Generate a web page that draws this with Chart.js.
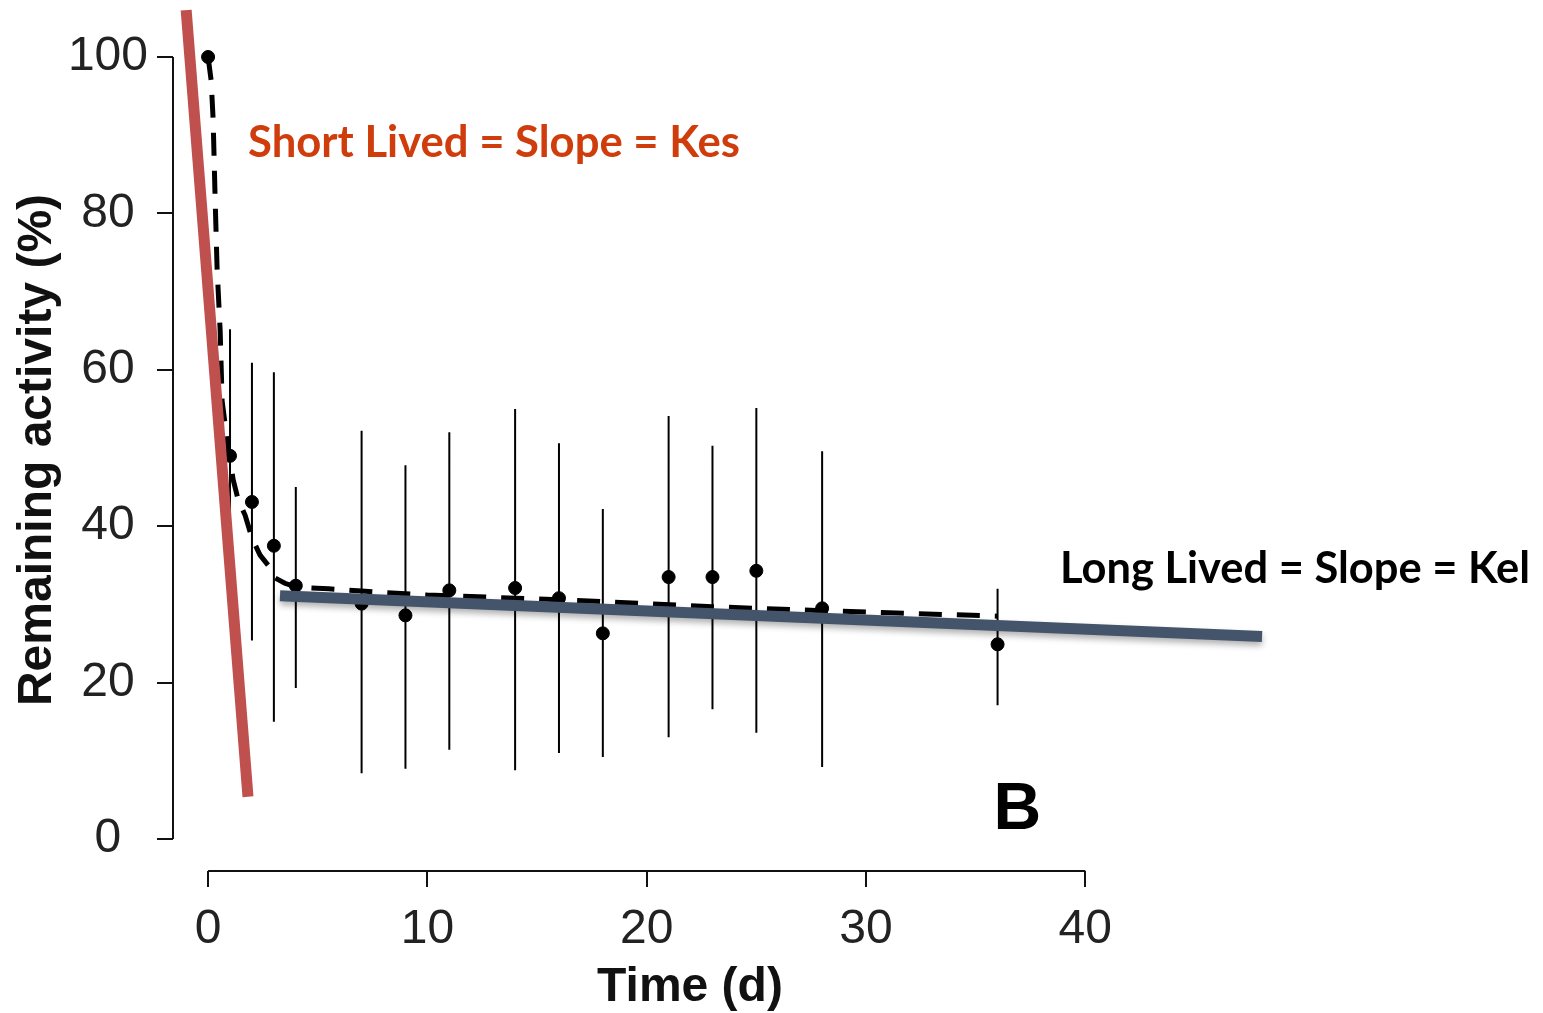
<!DOCTYPE html>
<html>
<head>
<meta charset="utf-8">
<script src="https://cdn.jsdelivr.net/npm/chart.js@4/dist/chart.umd.min.js"></script>
<style>
  html, body { margin: 0; padding: 0; background: #ffffff; }
  #wrap { width: 1543px; height: 1013px; }
</style>
</head>
<body>
<div id="wrap"><canvas id="c" width="1543" height="1013"></canvas></div>
<script>
// ---- data ----
const timeDays   = [0, 1, 2, 3, 4, 7, 9, 11, 14, 16, 18, 21, 23, 25, 28, 36];
const meanPct    = [100, 49, 43.1, 37.5, 32.4, 30.1, 28.6, 31.8, 32.1, 30.8, 26.3, 33.5, 33.5, 34.3, 29.5, 24.9];
const errHigh    = [null, 65.2, 60.9, 59.7, 45.0, 52.2, 47.8, 52.0, 55.0, 50.6, 42.2, 54.1, 50.3, 55.1, 49.6, 32.0];
const errLow     = [null, 33, 25.4, 15.0, 19.3, 8.4, 9.0, 11.4, 8.8, 11.0, 10.5, 13.0, 16.6, 13.6, 9.2, 17.1];

const fitT = [0, 0.14, 0.23, 0.32, 0.41, 0.55, 0.64, 0.87, 1.14, 1.37, 1.69, 2.0, 2.37, 2.74, 3.05, 3.5, 4.06, 5.5, 7, 10, 16, 23, 28, 36];
const fitY = [100, 97, 92, 82, 73, 65, 56, 51, 46, 43.4, 41.4, 38.5, 36.3, 35.0, 33.4, 32.7, 32.2, 32.0, 31.7, 31.2, 30.6, 29.7, 29.2, 28.5];

const shortLineT = [-1.0, 1.82];
const shortLineY = [106.0, 5.4];
const longLineT  = [3.28, 48.06];
const longLineY  = [31.1, 25.9];

const xTickValues = [0, 10, 20, 30, 40];
const yTickValues = [0, 20, 40, 60, 80, 100];

const labelShort = 'Short Lived = Slope = Kes';
const labelLong  = 'Long Lived = Slope = Kel';
const labelPanel = 'B';
const xTitle = 'Time (d)';
const yTitle = 'Remaining activity (%)';

// ---- build datasets ----
const toXY = (xs, ys) => xs.map((x, i) => ({ x: x, y: ys[i] }));

const errorBarPlugin = {
  id: 'errorBars',
  beforeDatasetsDraw(chart) {
    const { ctx, scales: { x, y } } = chart;
    ctx.save();
    ctx.strokeStyle = '#000';
    ctx.lineWidth = 2;
    ctx.beginPath();
    timeDays.forEach((t, i) => {
      if (errHigh[i] == null) return;
      const px = x.getPixelForValue(t);
      ctx.moveTo(px, y.getPixelForValue(errHigh[i]));
      ctx.lineTo(px, y.getPixelForValue(errLow[i]));
    });
    ctx.stroke();
    ctx.restore();
  },
  beforeDatasetDraw(chart, args) {
    if (chart.data.datasets[args.index].label === 'long') {
      const ctx = chart.ctx;
      ctx.save();
      ctx.shadowColor = 'rgba(0,0,0,0.3)';
      ctx.shadowBlur = 6;
      ctx.shadowOffsetY = 4;
    }
  },
  afterDatasetDraw(chart, args) {
    if (chart.data.datasets[args.index].label === 'long') chart.ctx.restore();
  },
  afterDraw(chart) {
    const { ctx, chartArea, scales: { x, y } } = chart;
    ctx.save();
    // axis lines (R-style separated axes)
    ctx.strokeStyle = '#111';
    ctx.lineWidth = 2;
    ctx.beginPath();
    ctx.moveTo(chartArea.left, y.getPixelForValue(100));
    ctx.lineTo(chartArea.left, y.getPixelForValue(0));
    ctx.moveTo(x.getPixelForValue(0), chartArea.bottom);
    ctx.lineTo(x.getPixelForValue(40), chartArea.bottom);
    ctx.stroke();

    // annotations
    ctx.textBaseline = 'middle';
    ctx.textAlign = 'left';
    ctx.font = 'bold 44px Lato, "Open Sans", sans-serif';
    ctx.fillStyle = '#D03D0C';
    ctx.fillText(labelShort, x.getPixelForValue(1.82), y.getPixelForValue(89.0), 492);
    ctx.fillStyle = '#000';
    ctx.fillText(labelLong, x.getPixelForValue(38.85), y.getPixelForValue(34.6), 470);
    ctx.font = 'bold 66px "Liberation Sans", Arial, sans-serif';
    ctx.textAlign = 'center';
    ctx.fillText(labelPanel, x.getPixelForValue(36.9), y.getPixelForValue(3.6));
    ctx.restore();
  }
};

const chart = new Chart(document.getElementById('c'), {
  type: 'scatter',
  data: {
    datasets: [
      {
        label: 'long',
        type: 'line',
        data: toXY(longLineT, longLineY),
        borderColor: '#44546A',
        borderWidth: 11,
        pointRadius: 0,
        clip: false,
        order: 0
      },
      {
        label: 'short',
        type: 'line',
        data: toXY(shortLineT, shortLineY),
        borderColor: '#C0504D',
        borderWidth: 11,
        pointRadius: 0,
        clip: false,
        order: 1
      },
      {
        label: 'fit',
        type: 'line',
        data: toXY(fitT, fitY),
        borderColor: '#000',
        borderWidth: 5,
        borderDash: [23, 15],
        pointRadius: 0,
        tension: 0,
        clip: false,
        order: 2
      },
      {
        label: 'mean',
        type: 'scatter',
        data: toXY(timeDays, meanPct),
        backgroundColor: '#000',
        borderColor: '#000',
        pointRadius: 6.5,
        clip: false,
        order: 3
      }
    ]
  },
  options: {
    responsive: false,
    animation: false,
    events: [],
    layout: { padding: { top: 29, right: 336, bottom: 0, left: 0 } },
    plugins: { legend: { display: false }, tooltip: { enabled: false } },
    scales: {
      x: {
        type: 'linear',
        min: -1.6,
        max: 45.55,
        afterBuildTicks: s => { s.ticks = xTickValues.map(v => ({ value: v })); },
        afterFit: s => { s.height = 142; s.paddingLeft = 0; s.paddingRight = 0; },
        border: { display: false },
        grid: { display: true, drawOnChartArea: false, drawTicks: true, tickLength: 16, color: '#111', lineWidth: 2 },
        ticks: { color: '#222', padding: 14, maxRotation: 0, autoSkip: false,
                 font: { family: '"Liberation Sans", Arial, sans-serif', size: 48 } },
        title: { display: true, text: xTitle, color: '#111', padding: 0,
                 font: { family: '"Liberation Sans", Arial, sans-serif', size: 48, weight: 'bold', lineHeight: 1.05 } }
      },
      y: {
        type: 'linear',
        min: -4.09,
        max: 103.58,
        afterBuildTicks: s => { s.ticks = yTickValues.map(v => ({ value: v })); },
        afterFit: s => { s.width = 173; s.paddingTop = 0; s.paddingBottom = 0; },
        border: { display: false },
        grid: { display: true, drawOnChartArea: false, drawTicks: true, tickLength: 16, color: '#111', lineWidth: 2 },
        ticks: { color: '#222', padding: 9, crossAlign: 'center',
                 font: { family: '"Liberation Sans", Arial, sans-serif', size: 48 } },
        title: { display: true, text: yTitle, color: '#111', padding: { top: 9, bottom: 0 },
                 font: { family: '"Liberation Sans", Arial, sans-serif', size: 48, weight: 'bold' } }
      }
    }
  },
  plugins: [errorBarPlugin]
});
</script>
</body>
</html>
